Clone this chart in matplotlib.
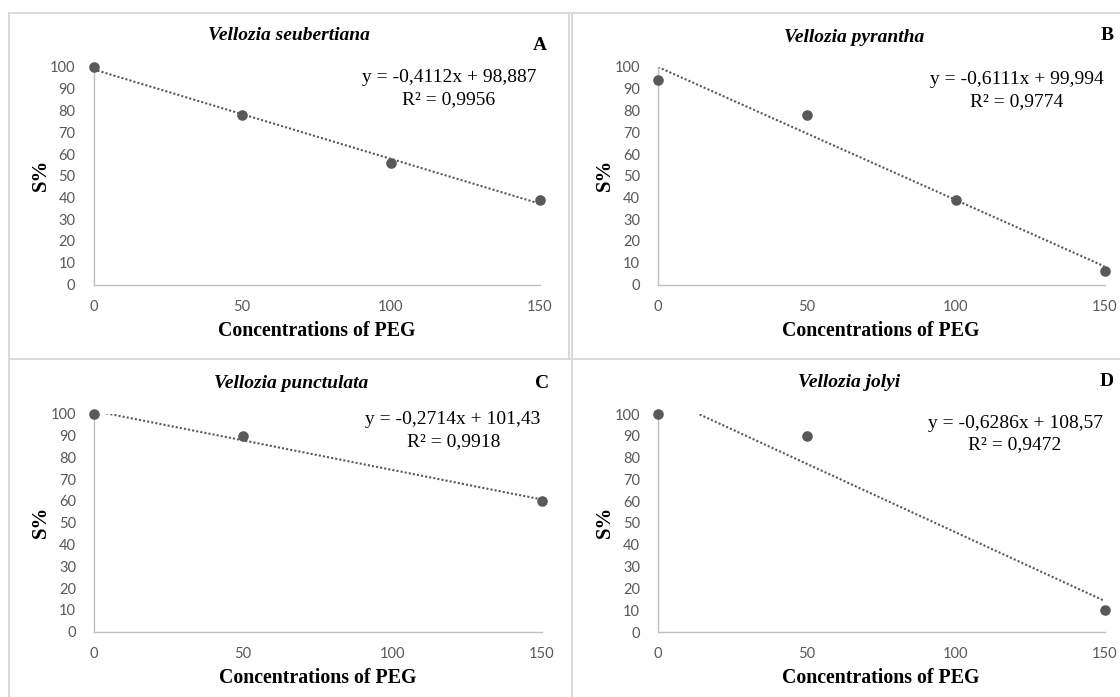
import matplotlib
matplotlib.use("Agg")
import matplotlib.pyplot as plt
from matplotlib.lines import Line2D
import numpy as np

# ---- data -------------------------------------------------------------
species = ["Vellozia seubertiana", "Vellozia pyrantha",
           "Vellozia punctulata", "Vellozia jolyi"]
panel_letters = ["A", "B", "C", "D"]

peg_a = [0, 50, 100, 150]
surv_a = [100, 78, 56, 39]
peg_b = [0, 50, 100, 150]
surv_b = [94, 78, 39, 6]
peg_c = [0, 50, 150]
surv_c = [100, 90, 60]
peg_d = [0, 50, 150]
surv_d = [100, 90, 10]

slopes = [-0.4112, -0.6111, -0.2714, -0.6286]
intercepts = [98.887, 99.994, 101.43, 108.57]
intercept_decimals = [3, 3, 2, 2]
r_squared = [0.9956, 0.9774, 0.9918, 0.9472]

x_ticks = [0, 50, 100, 150]
y_ticks = [0, 10, 20, 30, 40, 50, 60, 70, 80, 90, 100]

# ---- layout (pixel units of a 1120 x 697 canvas) ---------------------
W, H = 1120, 697
DPI = 100
fig = plt.figure(figsize=(W / DPI, H / DPI), dpi=DPI)
fig.patch.set_facecolor("white")

GREY = "#595959"
SPINE = "#BFBFBF"
BORDER = "#D9D9D9"
SERIF = "Liberation Serif"
SANS = "Lato"


def fx(px):
    return px / W


def fy(py):
    return 1 - py / H


# axes boxes: left, top, right, bottom (px)
boxes = [(93.5, 67, 539.5, 284.5),
         (658, 67, 1104.5, 284.5),
         (94, 414, 541.5, 631.5),
         (658, 414, 1104.5, 632)]

# text anchors (px)
title_pos = [(289, 36), (854, 37), (291, 384), (849, 383)]
letter_pos = [(540, 45), (1107, 36), (542, 384), (1107, 382)]
eq_pos = [(449, 78), (1017, 80), (453, 420), (1015, 423)]
r2_pos = [(449, 100), (1017, 102), (454, 442), (1015, 445)]
ylab_pos = [(41, 175), (605, 175), (41, 522), (605, 522)]

series = [(peg_a, surv_a), (peg_b, surv_b), (peg_c, surv_c), (peg_d, surv_d)]

for i, (xs, ys) in enumerate(series):
    l, t, r, b = boxes[i]
    ax = fig.add_axes([fx(l), fy(b), fx(r) - fx(l), fy(t) - fy(b)])
    ax.set_xlim(0, 150)
    ax.set_ylim(0, 100)
    ax.set_facecolor("none")
    for side in ("top", "right"):
        ax.spines[side].set_visible(False)
    for side in ("left", "bottom"):
        ax.spines[side].set_color(SPINE)
        ax.spines[side].set_linewidth(1.0)
    ax.set_xticks(x_ticks)
    ax.set_yticks(y_ticks)
    ax.tick_params(length=0, colors=GREY, labelsize=10.5)
    ax.tick_params(axis="y", pad=13)
    ax.tick_params(axis="x", pad=11)
    for lab in ax.get_xticklabels() + ax.get_yticklabels():
        lab.set_fontfamily(SANS)
        lab.set_color(GREY)

    # linear trend line from the fitted coefficients
    tx = np.array([0, 150])
    ax.plot(tx, slopes[i] * tx + intercepts[i], color=GREY, lw=1.5,
            linestyle=(0, (1, 1)), zorder=2)

    # observed survival
    ax.plot(xs, ys, "o", color=GREY, markersize=6.6, clip_on=False,
            zorder=3)

    ax.set_xlabel("Concentrations of PEG", fontfamily=SERIF,
                  fontweight="bold", fontsize=14.3, labelpad=5)

    # annotations
    fig.text(fx(title_pos[i][0]), fy(title_pos[i][1]), species[i],
             fontfamily=SERIF, fontstyle="italic", fontweight="bold",
             fontsize=14, ha="center", va="center")
    fig.text(fx(letter_pos[i][0]), fy(letter_pos[i][1]), panel_letters[i],
             fontfamily=SERIF, fontweight="bold", fontsize=14,
             ha="center", va="center")
    eq = "y = {:.4f}x + {:.{d}f}".format(slopes[i], intercepts[i],
                                         d=intercept_decimals[i])
    fig.text(fx(eq_pos[i][0]), fy(eq_pos[i][1]), eq.replace(".", ","),
             fontfamily=SERIF, fontsize=14, ha="center", va="center")
    r2 = "R² = {:.4f}".format(r_squared[i])
    fig.text(fx(r2_pos[i][0]), fy(r2_pos[i][1]), r2.replace(".", ","),
             fontfamily=SERIF, fontsize=14, ha="center", va="center")
    fig.text(fx(ylab_pos[i][0]), fy(ylab_pos[i][1]), "S%",
             fontfamily=SERIF, fontweight="bold", fontsize=15,
             rotation=90, ha="center", va="center")

# chart-area borders
border_lines = [((8.5, 1120), (12.5, 12.5)),
                ((8.5, 1120), (359, 359)),
                ((8.5, 8.5), (12.5, 697)),
                ((569.3, 569.3), (12.5, 359)),
                ((571.8, 571.8), (12.5, 697))]
for xs_px, ys_px in border_lines:
    fig.add_artist(Line2D([fx(v) for v in xs_px], [fy(v) for v in ys_px],
                          transform=fig.transFigure, color=BORDER, lw=1.4,
                          zorder=0))

fig.savefig("out.png", dpi=DPI, facecolor="white")
